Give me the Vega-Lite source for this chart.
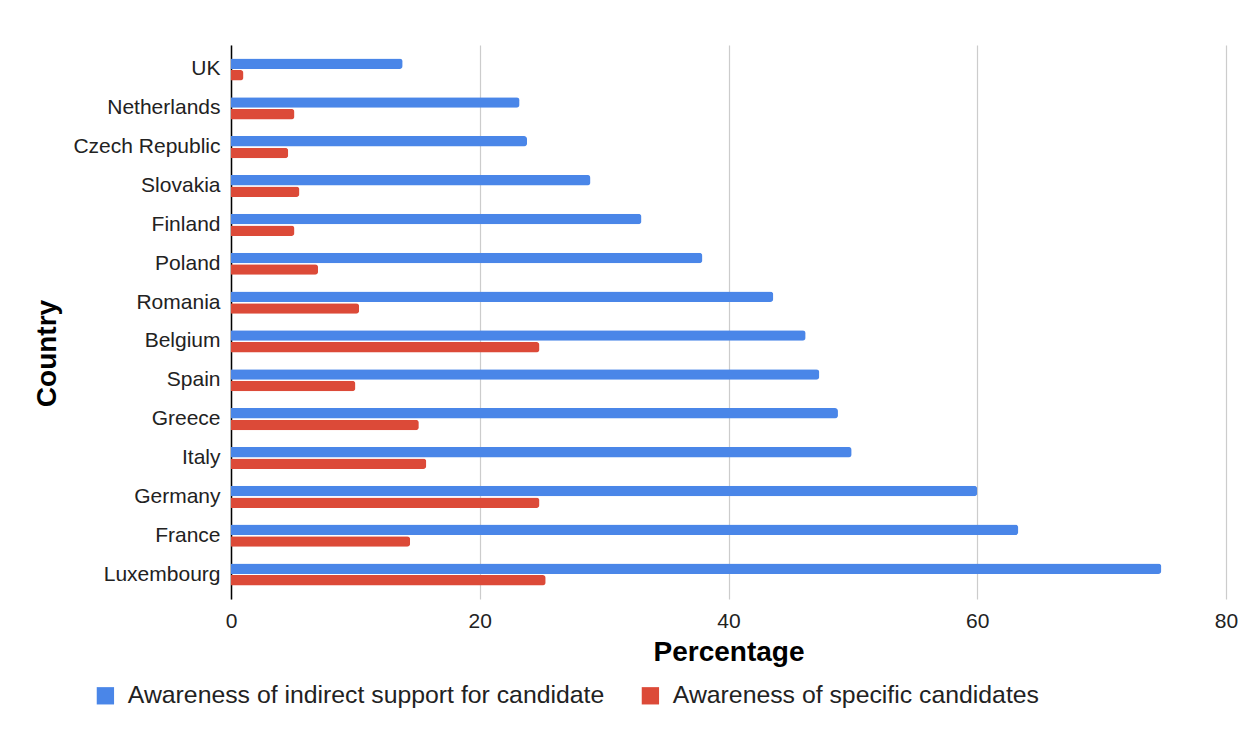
{
  "$schema": "https://vega.github.io/schema/vega-lite/v6.json",
  "width": 995,
  "height": 554,
  "autosize": {"type": "none"},
  "padding": {"left": 231, "top": 45, "right": 29, "bottom": 133},
  "background": "white",
  "config": {
    "font": "Liberation Sans",
    "view": {"stroke": null}
  },
  "data": {
    "values": [
      {"country": "UK", "series": "Awareness of indirect support for candidate", "value": 13.8},
      {"country": "UK", "series": "Awareness of specific candidates", "value": 1.0},
      {"country": "Netherlands", "series": "Awareness of indirect support for candidate", "value": 23.2},
      {"country": "Netherlands", "series": "Awareness of specific candidates", "value": 5.1},
      {"country": "Czech Republic", "series": "Awareness of indirect support for candidate", "value": 23.8},
      {"country": "Czech Republic", "series": "Awareness of specific candidates", "value": 4.6},
      {"country": "Slovakia", "series": "Awareness of indirect support for candidate", "value": 28.9},
      {"country": "Slovakia", "series": "Awareness of specific candidates", "value": 5.5},
      {"country": "Finland", "series": "Awareness of indirect support for candidate", "value": 33.0},
      {"country": "Finland", "series": "Awareness of specific candidates", "value": 5.1},
      {"country": "Poland", "series": "Awareness of indirect support for candidate", "value": 37.9},
      {"country": "Poland", "series": "Awareness of specific candidates", "value": 7.0},
      {"country": "Romania", "series": "Awareness of indirect support for candidate", "value": 43.6},
      {"country": "Romania", "series": "Awareness of specific candidates", "value": 10.3},
      {"country": "Belgium", "series": "Awareness of indirect support for candidate", "value": 46.2},
      {"country": "Belgium", "series": "Awareness of specific candidates", "value": 24.8},
      {"country": "Spain", "series": "Awareness of indirect support for candidate", "value": 47.3},
      {"country": "Spain", "series": "Awareness of specific candidates", "value": 10.0},
      {"country": "Greece", "series": "Awareness of indirect support for candidate", "value": 48.8},
      {"country": "Greece", "series": "Awareness of specific candidates", "value": 15.1},
      {"country": "Italy", "series": "Awareness of indirect support for candidate", "value": 49.9},
      {"country": "Italy", "series": "Awareness of specific candidates", "value": 15.7},
      {"country": "Germany", "series": "Awareness of indirect support for candidate", "value": 60.0},
      {"country": "Germany", "series": "Awareness of specific candidates", "value": 24.8},
      {"country": "France", "series": "Awareness of indirect support for candidate", "value": 63.3},
      {"country": "France", "series": "Awareness of specific candidates", "value": 14.4},
      {"country": "Luxembourg", "series": "Awareness of indirect support for candidate", "value": 74.8},
      {"country": "Luxembourg", "series": "Awareness of specific candidates", "value": 25.3}
    ]
  },
  "mark": {"type": "bar", "cornerRadiusEnd": 3},
  "encoding": {
    "y": {
      "field": "country",
      "type": "nominal",
      "sort": null,
      "scale": {"paddingInner": 0.43, "paddingOuter": 0.345},
      "axis": {
        "title": "Country",
        "titleFontSize": 28,
        "titleFontWeight": "bold",
        "titleColor": "#000",
        "titleAngle": -90,
        "titleX": -184,
        "titleY": 308,
        "titleAlign": "center",
        "titleBaseline": "middle",
        "labelFontSize": 21,
        "labelColor": "#222",
        "labelPadding": 11,
        "ticks": false,
        "domainColor": "#000",
        "domainWidth": 1.5,
        "grid": false
      }
    },
    "yOffset": {
      "field": "series",
      "type": "nominal",
      "scale": {"paddingInner": 0.1}
    },
    "x": {
      "field": "value",
      "type": "quantitative",
      "scale": {"domain": [0, 80], "nice": false},
      "axis": {
        "title": "Percentage",
        "titleFontSize": 28,
        "titleFontWeight": "bold",
        "titleColor": "#000",
        "titleY": 53,
        "titleBaseline": "middle",
        "values": [0, 20, 40, 60, 80],
        "labelFontSize": 21,
        "labelColor": "#222",
        "labelPadding": 11,
        "labelFlush": false,
        "ticks": false,
        "domain": false,
        "grid": true,
        "gridColor": "#cccccc",
        "gridWidth": 1.2
      }
    },
    "color": {
      "field": "series",
      "type": "nominal",
      "scale": {
        "domain": ["Awareness of indirect support for candidate", "Awareness of specific candidates"],
        "range": ["#4a86e8", "#dc4a38"]
      },
      "legend": {
        "title": null,
        "orient": "none",
        "direction": "horizontal",
        "legendX": -138,
        "legendY": 638,
        "symbolType": "square",
        "symbolSize": 300,
        "symbolStrokeWidth": 0,
        "labelFontSize": 24.8,
        "labelColor": "#222",
        "labelOffset": 10,
        "columnPadding": 33,
        "labelLimit": 700
      }
    }
  }
}
